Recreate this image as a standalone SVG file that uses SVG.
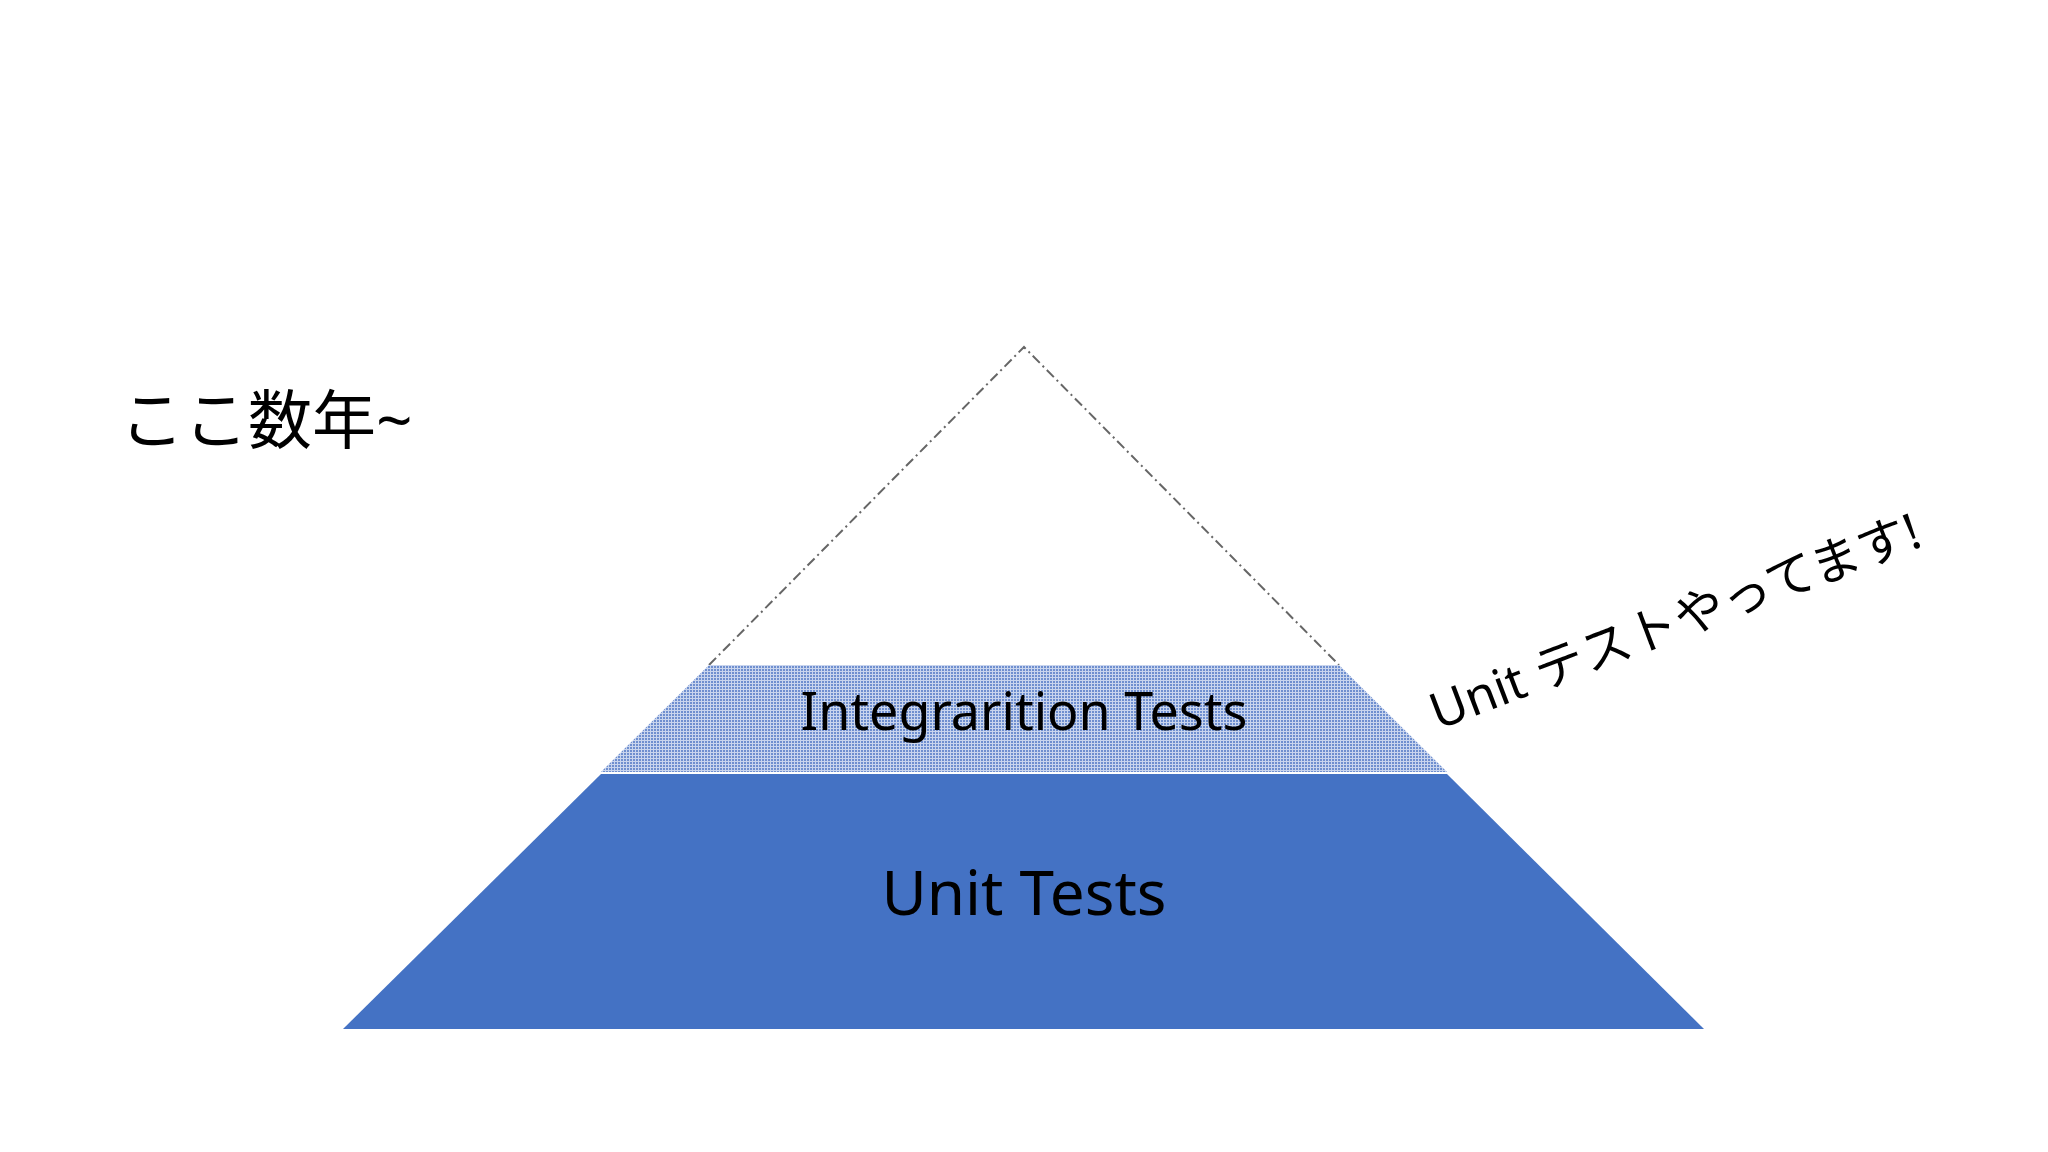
<svg xmlns="http://www.w3.org/2000/svg" width="2048" height="1152" viewBox="0 0 2048 1152">
<defs>
<pattern id="dots" width="3" height="3" patternUnits="userSpaceOnUse">
<rect width="3" height="3" fill="#c9d5ee"/>
<rect width="2" height="2" fill="#6f8fcf"/>
</pattern>
</defs>
<style>
.t{font-family:"Noto Sans","Noto Sans CJK JP",sans-serif;fill:#000}
</style>
<rect width="2048" height="1152" fill="#fff"/>
<g id="connectors">
<path d="M709,665 L1024,347 L1339,665" fill="none" stroke="#666" stroke-width="2" stroke-dasharray="10,4,2,4"/>
</g>
<g id="integration">
<polygon points="709,665 1339,665 1447,772 601,772" fill="url(#dots)"/>
<text class="t" x="1024" y="730" font-size="52" text-anchor="middle">Integrarition Tests</text>
</g>
<g id="unit">
<polygon points="601,774 1447,774 1704,1029 343,1029" fill="#4472c4"/>
<text class="t" x="1024" y="915" font-size="62" text-anchor="middle">Unit Tests</text>
</g>
<g id="since">
<text class="t" x="120" y="443" font-size="64">ここ数年~</text>
</g>
<g id="note">
<text class="t" x="1438" y="730" font-size="50" transform="rotate(-20.8 1438 730)">Unit テストやってます!</text>
</g>
</svg>
